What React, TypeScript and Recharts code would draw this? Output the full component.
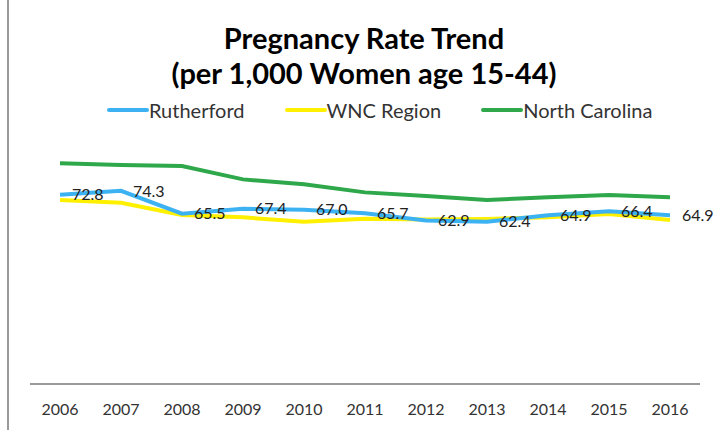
import React from 'react';
import { LineChart, Line, XAxis, YAxis, LabelList } from 'recharts';

const years = ['2006', '2007', '2008', '2009', '2010', '2011', '2012', '2013', '2014', '2015', '2016'];
const rutherford = [72.8, 74.3, 65.5, 67.4, 67.0, 65.7, 62.9, 62.4, 64.9, 66.4, 64.9];
const wncRegion = [70.8, 69.7, 65.0, 64.1, 62.4, 63.6, 63.3, 63.5, 64.1, 65.4, 63.1];
const northCarolina = [84.9, 84.2, 83.8, 78.7, 76.8, 73.7, 72.3, 70.8, 71.8, 72.7, 71.8];

const seriesInfo = [
  { key: 'rutherford', name: 'Rutherford', color: '#3DB2F2' },
  { key: 'wnc', name: 'WNC Region', color: '#FFF000' },
  { key: 'nc', name: 'North Carolina', color: '#2EA84A' },
];

const data = years.map((y, i) => ({
  year: y,
  rutherford: rutherford[i],
  wnc: wncRegion[i],
  nc: northCarolina[i],
}));

const FONT = 'Lato, "Open Sans", sans-serif';

const ChartLegend = () => (
  <div style={{ position: 'absolute', left: 107, top: 98, display: 'flex', gap: 40, fontFamily: FONT, fontSize: 20, lineHeight: '24px', color: '#333' }}>
    {seriesInfo.map(s => (
      <div key={s.key} style={{ display: 'flex', alignItems: 'center' }}>
        <span style={{ display: 'inline-block', width: 42, height: 4, borderRadius: 2, background: s.color }} />
        <span>{s.name}</span>
      </div>
    ))}
  </div>
);

export default function App() {
  return (
    <div style={{ position: 'absolute', left: 0, top: 0, width: 715, height: 430, background: '#fff', overflow: 'hidden' }}>
      <div style={{ position: 'absolute', left: 7, top: 0, width: 2, height: 430, background: '#9a9a9a' }} />
      <div style={{ position: 'absolute', left: 0, top: 20, width: 728, textAlign: 'center', fontFamily: FONT, fontWeight: 'bold', fontSize: 29, lineHeight: '35px', color: '#000' }}>
        <div>Pregnancy Rate Trend</div>
        <div>(per 1,000 Women age 15-44)</div>
      </div>
      <ChartLegend />
      <LineChart width={715} height={430} data={data} margin={{ top: 124, right: 15, bottom: 0, left: 30 }}>
        <XAxis
          dataKey="year"
          tickLine={false}
          axisLine={{ stroke: '#9a9a9a', strokeWidth: 2 }}
          tick={{ fontFamily: FONT, fontSize: 16, fill: '#333' }}
          padding={{ left: 30, right: 30 }}
          dy={12}
          height={46}
        />
        <YAxis hide domain={[0, 100]} />
        <Line type="linear" dataKey="nc" name="North Carolina" stroke="#2EA84A" strokeWidth={4} dot={false} isAnimationActive={false} />
        <Line type="linear" dataKey="wnc" name="WNC Region" stroke="#FFF000" strokeWidth={4} dot={false} isAnimationActive={false} />
        <Line type="linear" dataKey="rutherford" name="Rutherford" stroke="#3DB2F2" strokeWidth={4} dot={false} isAnimationActive={false}>
          <LabelList dataKey="rutherford" position="right" offset={12} style={{ fontFamily: FONT, fontSize: 16, fill: '#222' }} formatter={(v: number) => v.toFixed(1)} />
        </Line>
      </LineChart>
    </div>
  );
}
